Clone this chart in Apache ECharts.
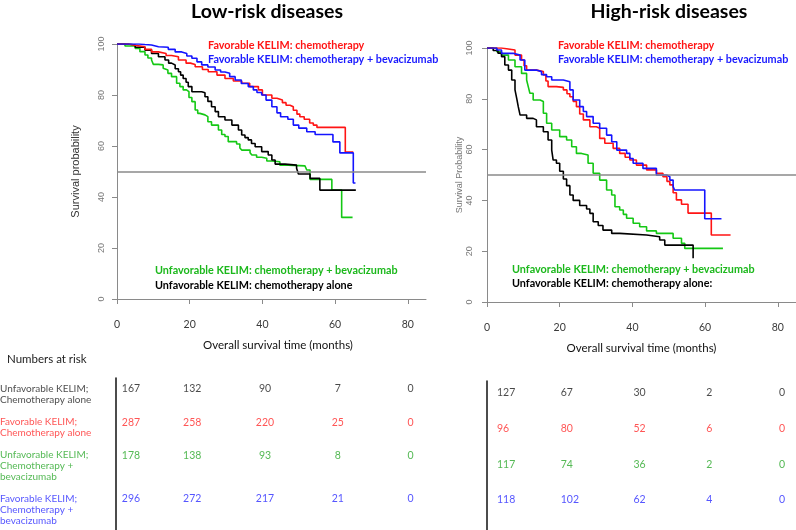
<!DOCTYPE html>
<html><head><meta charset="utf-8">
<script src="https://cdn.jsdelivr.net/npm/echarts@6/dist/echarts.min.js"></script>
<style>html,body{margin:0;padding:0;background:#fff}#c{width:796px;height:530px}</style>
</head><body><div id="c"></div>
<script>
// ---------- Data (time in months, survival in %) ----------
const lowFavChemo = [[0,100],[3,99.5],[5,98.9],[7.7,97.9],[9.5,96.9],[11.4,96.3],[13.5,95.5],[15,95],[16.9,93.7],[19,92.5],[20.2,92],[21.5,91.1],[23.5,90],[25.1,89.1],[27.5,87.8],[29.7,86.5],[32,85.5],[34.3,84.6],[36.5,83.3],[38.9,82],[40,80],[42.6,78.7],[44,78],[45.5,77],[46.5,76],[47.6,75.4],[48.5,74],[49.5,72.5],[50.3,71.5],[51.5,70.5],[53,69],[54,68.2],[55,67.3],[62.8,57.6],[65,57.6]];
const lowFavBev = [[0,100],[6,99.8],[7.7,99.6],[9.5,98.9],[11.4,98.7],[14.1,97.9],[16,96.9],[17.8,96.3],[19.2,95.3],[20.6,94.4],[22,93],[23.3,91.8],[25,91],[27,89.8],[28.5,89],[29.7,88.5],[31,87.2],[32.5,85.9],[34.2,84.5],[36.1,83.3],[37.5,82],[38.5,81],[39.8,80],[41,78],[42.6,75.4],[44,73],[45,71.5],[47,70.5],[48.5,68.2],[50,67],[52.2,65.6],[54.5,64.5],[59.4,61.6],[61.3,57.3],[65,45.5],[65.6,45.5]];
const lowUnfavBev = [[0,100],[2.2,99.2],[5,98.3],[6.3,97],[7.7,95.7],[8.5,94.5],[9.5,93.7],[10,92],[11.4,91.8],[12.7,90.5],[13.2,89.8],[14,88.5],[15,87.2],[16.4,84.6],[17.3,83.3],[18.2,82],[19.1,81.3],[19.8,79],[20.6,77.4],[21.5,74.1],[22.2,72.8],[22.8,72.2],[24.2,71.5],[25,69.5],[26,68.2],[27.9,66.3],[28.8,64.5],[29.7,63.7],[30.6,61.7],[32.9,60.8],[33.8,59.2],[34.3,58.4],[36.6,57.4],[37.1,56.5],[38.4,55.6],[39.8,55.2],[41.2,54.1],[42.6,53.8],[44.8,52.5],[47.1,52.2],[51.7,51.9],[52.2,50.6],[53.1,46.9],[59.1,42.7],[61.8,32],[64.8,32]];
const lowUnfavChemo = [[0,100],[3.1,99.6],[5,98.7],[7.7,97.6],[9.5,96.3],[11.4,95],[13.2,93.7],[14.2,92.5],[15,91.8],[16,90.3],[16.9,89.1],[17.5,87.8],[18.2,86.5],[19,85],[19.6,83.3],[20.6,81.3],[23.3,80.9],[24.2,79.3],[25,77.5],[26,75.4],[27,73.5],[27.9,71.5],[29.7,70.2],[31.6,68.2],[33.4,66.3],[34.3,64.3],[35.2,63.3],[36.1,62.4],[37,61],[38,59.7],[39.8,57.8],[41.6,56.5],[42.6,54.5],[43.5,52.9],[46.2,52.5],[49.4,51.3],[49.9,49],[53.1,47.3],[55.8,42.7],[65.7,42.7]];

const highFavChemo = [[0,100],[4,99.5],[6.3,99.2],[7.7,97.2],[9.5,95.3],[10.2,93],[10.9,91.3],[13.6,90.7],[15.5,89.4],[16.2,87],[16.8,84.8],[19.1,84.5],[21,83.5],[22,82],[22.8,80.8],[23.7,79],[24.6,76.9],[25.5,74],[26.5,71.7],[28.3,69],[30.1,68.4],[31,64.4],[32.4,62.5],[34.7,60.5],[36.5,58.5],[38,57],[39.3,55.9],[41.1,53.9],[43.9,52],[46.6,50.7],[48.4,49.3],[49.5,47.5],[50.3,46.1],[51.2,43],[52.1,40.2],[53.5,38.5],[55.3,35],[61.7,26.4],[67,26.4]];
const highFavBev = [[0,100],[2.7,99.2],[4,97.9],[7.2,97.2],[9.1,95.3],[10.4,91.3],[13.6,90.7],[15,89.5],[16.4,88.7],[17.8,87.4],[21,86.7],[22.8,83.5],[23.7,79.5],[25.5,76.9],[26.5,75],[27.4,73],[29.2,70.4],[31,68.4],[32.9,65.7],[34.3,63.1],[35.7,59.8],[38.4,58.5],[39.3,56.5],[40.2,54.6],[42.9,52.6],[46.6,50],[49.4,49.3],[50.3,48],[51.2,45.4],[51.6,44.1],[59.9,32.8],[64.5,32.8]];
const highUnfavBev = [[0,100],[2.7,98.5],[4,97.2],[5.9,95.3],[7.7,92.6],[9.5,90],[10.9,87.4],[11.4,84.5],[11.8,82.2],[12.7,79.5],[14.6,78.9],[15.5,74.3],[16.4,70.4],[17.8,67.7],[20,65.1],[21.9,63.8],[23.3,61.1],[24.6,58.5],[26,57.9],[27.8,54.6],[29.2,50.7],[31,48],[32.9,44.1],[34.3,42.1],[35.2,37.5],[36.5,36.2],[37.5,34.5],[38.4,33],[40.2,31],[42,29.6],[43.9,28],[46.6,27],[51.2,25.1],[53.5,23.1],[54.4,21.1],[64.9,21.1]];
const highUnfavChemo = [[0,100],[1.7,99],[3,98],[4,96.6],[4.9,93.3],[5.9,91.3],[6.8,87.4],[7.7,83.5],[8.2,80],[8.6,76.9],[9.1,73.6],[10.9,72.3],[12.7,71.7],[13.6,69],[15.5,67],[16.8,63.8],[17.8,59.8],[18.2,55.9],[19.1,54.6],[20,51.5],[21,48.4],[21.9,45.8],[22.8,42.1],[23.7,40],[25.5,38],[27.4,36.6],[28.3,34.9],[29.2,31.6],[30.6,30.1],[31.9,28.3],[34.3,27],[36.5,26.4],[43.9,25.7],[47.5,24.4],[48.9,22.4],[56.7,17.2]];

const xTicks = [0, 20, 40, 60, 80];
const riskTimes = [0, 20, 40, 60, 80];
const rowLabels = ['Unfavorable KELIM;\nChemotherapy alone', 'Favorable KELIM;\nChemotherapy alone', 'Unfavorable KELIM;\nChemotherapy +\nbevacizumab', 'Favorable KELIM;\nChemotherapy +\nbevacizumab'];
const lowRiskCounts = [[167,132,90,7,0],[287,258,220,25,0],[178,138,93,8,0],[296,272,217,21,0]];
const highRiskCounts = [[127,67,30,2,0],[96,80,52,6,0],[117,74,36,2,0],[118,102,62,4,0]];

const NAME_RED = 'Favorable KELIM: chemotherapy';
const NAME_BLUE = 'Favorable KELIM: chemotherapy + bevacizumab';
const NAME_GREEN = 'Unfavorable KELIM: chemotherapy + bevacizumab';
const NAME_BLACK_L = 'Unfavorable KELIM: chemotherapy alone';
const NAME_BLACK_R = 'Unfavorable KELIM: chemotherapy alone:';

// ---------- Styles ----------
const C_RED = '#ff1414', C_BLUE = '#1414ff', C_GREEN = '#14c814', C_BLACK = '#000000';
const T_COLORS = ['#1a1a1a', '#ff2a2a', '#2aa82a', '#2a2aff'];
const FONT = 'Lato';
const AX = '#8a8a8a';
const LEG_SIZE = 10.8;

const chart = echarts.init(document.getElementById('c'), null, {renderer: 'canvas'});

function chartX(grid, padLeft) {
  return {
    type: 'value', gridIndex: grid, min: 0, max: 85, offset: 11,
    axisLine: {show: true, lineStyle: {color: AX, width: 1}},
    axisTick: {show: true, length: 5, lineStyle: {color: AX}, customValues: xTicks},
    axisLabel: {show: true, customValues: xTicks, color: '#3a3a3a', fontSize: 10.5, fontFamily: FONT, margin: 9},
    splitLine: {show: false},
    name: 'Overall survival time (months)', nameLocation: 'middle', nameGap: 29,
    nameTextStyle: {color: '#111', fontSize: 11.5, fontFamily: FONT, padding: [0, 0, 0, padLeft]}
  };
}
function chartY(grid, name, nameSize, nameColor, nameGap, labelMargin) {
  return {
    type: 'value', gridIndex: grid, min: 0, max: 100, interval: 20,
    axisLine: {show: true, lineStyle: {color: AX, width: 1}},
    axisTick: {show: true, length: 5, lineStyle: {color: AX}},
    axisLabel: {rotate: 90, color: '#777', fontSize: 9, fontFamily: 'Liberation Sans', margin: labelMargin},
    splitLine: {show: false},
    name: name, nameLocation: 'middle', nameGap: nameGap,
    nameTextStyle: {color: nameColor, fontSize: nameSize, fontFamily: 'Liberation Sans'}
  };
}
function km(name, data, color, xi, withRef) {
  const s = {
    name: name, type: 'line', step: 'end', data: data, xAxisIndex: xi, yAxisIndex: xi,
    showSymbol: false, symbol: 'none', color: color,
    lineStyle: {color: color, width: 1.6}, animation: false, silent: true
  };
  if (withRef) {
    s.markLine = {silent: true, symbol: 'none', label: {show: false},
      lineStyle: {color: '#8a8a8a', width: 1.5, type: 'solid'}, data: [{yAxis: 50}]};
  }
  return s;
}

// row positions in the left table follow the number of text lines of each row label
const lowRowPos = [];
(function () { let acc = 0; rowLabels.forEach(r => { lowRowPos.push(acc); acc += r.split('\n').length + 1.1; }); })();
const highRowPos = rowLabels.map((r, i) => i);

function countSeries(counts, rowPos, xi, align, firstOff, otherOff) {
  const data = [];
  counts.forEach((row, r) => {
    row.forEach((v, c) => {
      data.push({
        value: [riskTimes[c], rowPos[r], v],
        label: {color: T_COLORS[r], align: align, offset: [c === 0 ? firstOff : otherOff, 0]}
      });
    });
  });
  return {
    type: 'scatter', xAxisIndex: xi, yAxisIndex: xi, symbolSize: 0, data: data, silent: true, animation: false,
    label: {show: true, position: 'inside', formatter: p => String(p.value[2]), fontSize: 10.5, fontFamily: FONT}
  };
}

const rowLabelSeries = {
  type: 'scatter', xAxisIndex: 2, yAxisIndex: 2, symbolSize: 0, silent: true, animation: false,
  data: rowLabels.map((t, i) => ({
    value: [0, lowRowPos[i]], name: t,
    label: {color: T_COLORS[i]}
  })),
  label: {show: true, position: [-116, -6], formatter: p => p.name, fontSize: 10, lineHeight: 11, fontFamily: FONT, align: 'left'}
};

function legendBlock(left, top, items, gap) {
  return {
    orient: 'vertical', left: left, top: top, padding: 0, itemGap: gap,
    itemWidth: 0, itemHeight: 0, icon: 'none', selectedMode: false,
    textStyle: {fontSize: LEG_SIZE, fontWeight: 'bold', fontFamily: FONT, padding: [0, 0, 0, -5]},
    data: items.map(it => ({name: it[0], textStyle: {color: it[1], fontWeight: 'bold', fontSize: LEG_SIZE}}))
  };
}

const option = {
  backgroundColor: '#ffffff',
  animation: false,
  title: [
    {text: 'Low-risk diseases', left: 262, top: -3, textAlign: 'center', textStyle: {fontSize: 19.5, fontWeight: 'bold', color: '#000', fontFamily: FONT}},
    {text: 'High-risk diseases', left: 664, top: -3, textAlign: 'center', textStyle: {fontSize: 19.5, fontWeight: 'bold', color: '#000', fontFamily: FONT}},
    {text: 'Numbers at risk', left: 2, top: 348, textStyle: {fontSize: 11.5, fontWeight: 'normal', color: '#222', fontFamily: FONT}}
  ],
  legend: [
    legendBlock(208, 40, [[NAME_RED, C_RED], [NAME_BLUE, '#1a1aff']], 3),
    legendBlock(155, 265, [[NAME_GREEN, '#1cb81c'], [NAME_BLACK_L, '#000']], 4),
    legendBlock(558, 40, [[NAME_RED, C_RED], [NAME_BLUE, '#1a1aff']], 3),
    legendBlock(512, 264, [[NAME_GREEN, '#1cb81c'], [NAME_BLACK_R, '#000']], 3)
  ],
  grid: [
    {left: 117, top: 44, width: 309, height: 255, outerBoundsMode: 'none', containLabel: false},
    {left: 487, top: 48, width: 309, height: 254, outerBoundsMode: 'none', containLabel: false},
    {left: 116, top: 378, width: 291, height: 152, outerBoundsMode: 'none', containLabel: false},
    {left: 487, top: 381, width: 291, height: 149, outerBoundsMode: 'none', containLabel: false}
  ],
  xAxis: [
    chartX(0, 13),
    chartX(1, 0),
    {type: 'value', gridIndex: 2, min: 0, max: 80, show: false},
    {type: 'value', gridIndex: 3, min: 0, max: 80, show: false}
  ],
  yAxis: [
    chartY(0, 'Survival probability', 11, '#333', 36, 11),
    chartY(1, 'Survival Probability', 9, '#777', 22, 13),
    {type: 'value', gridIndex: 2, inverse: true, min: -1.03, max: 13.2,
      axisLine: {show: true, lineStyle: {color: '#111', width: 1.5}}, axisTick: {show: false}, axisLabel: {show: false}, splitLine: {show: false}},
    {type: 'value', gridIndex: 3, inverse: true, min: -0.336, max: 3.84,
      axisLine: {show: true, lineStyle: {color: '#111', width: 1.5}}, axisTick: {show: false}, axisLabel: {show: false}, splitLine: {show: false}}
  ],
  series: [
    km(NAME_GREEN, lowUnfavBev, C_GREEN, 0, true),
    km(NAME_BLACK_L, lowUnfavChemo, C_BLACK, 0, false),
    km(NAME_RED, lowFavChemo, C_RED, 0, false),
    km(NAME_BLUE, lowFavBev, C_BLUE, 0, false),
    km(NAME_GREEN, highUnfavBev, C_GREEN, 1, true),
    km(NAME_BLACK_R, highUnfavChemo, C_BLACK, 1, false),
    km(NAME_RED, highFavChemo, C_RED, 1, false),
    km(NAME_BLUE, highFavBev, C_BLUE, 1, false),
    countSeries(lowRiskCounts, lowRowPos, 2, 'center', 15, 3.5),
    countSeries(highRiskCounts, highRowPos, 3, 'left', 10, 1),
    rowLabelSeries
  ]
};
chart.setOption(option);
</script>
</body></html>
